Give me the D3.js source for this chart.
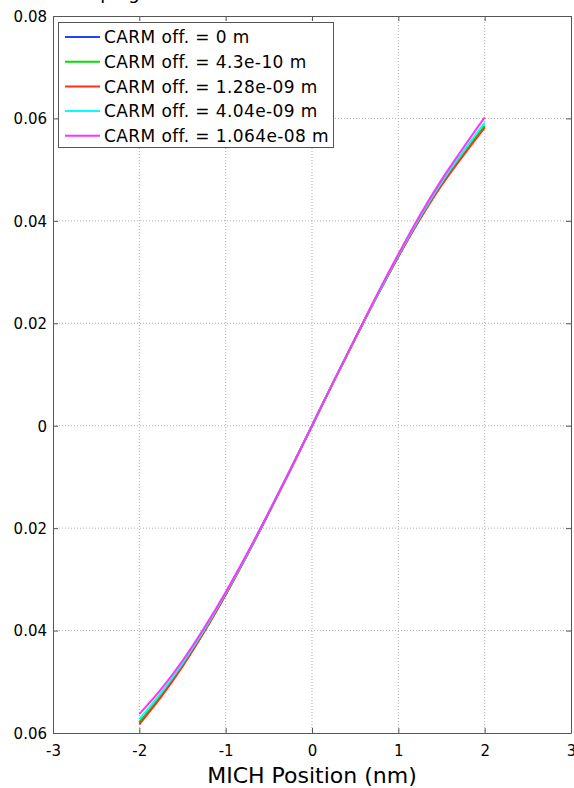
<!DOCTYPE html>
<html>
<head>
<meta charset="utf-8">
<script src="https://cdn.jsdelivr.net/npm/d3@7"></script>
<style>
  html, body { margin: 0; padding: 0; background: #fff; }
  svg { display: block; font-family: "DejaVu Sans", sans-serif; }
</style>
</head>
<body>
<svg id="chart" width="574" height="788"></svg>
<script>
// MICH position sweep (nm)
const michPos = [-2, -1.75, -1.5, -1.25, -1, -0.75, -0.5, -0.25, 0,
                 0.25, 0.5, 0.75, 1, 1.25, 1.5, 1.75, 2];

// Error signal for each CARM offset
const carm0 = [-0.0580, -0.0528, -0.0469, -0.0402, -0.0329, -0.0252, -0.0170, -0.0086, 0,
               0.0086, 0.0170, 0.0252, 0.0331, 0.0404, 0.0471, 0.0529, 0.0585];
const carm430p = [-0.0579, -0.0527, -0.0468, -0.0401, -0.0329, -0.0251, -0.0170, -0.0086, 0,
                  0.0086, 0.0170, 0.0253, 0.0331, 0.0405, 0.0471, 0.0530, 0.0586];
const carm1280p = [-0.0583, -0.0530, -0.0470, -0.0403, -0.0330, -0.0252, -0.0170, -0.0086, 0,
                   0.0086, 0.0170, 0.0252, 0.0330, 0.0403, 0.0469, 0.0527, 0.0582];
const carm4040p = [-0.0573, -0.0522, -0.0464, -0.0399, -0.0327, -0.0251, -0.0169, -0.0086, 0,
                   0.0086, 0.0171, 0.0253, 0.0333, 0.0407, 0.0475, 0.0535, 0.0592];
const carm10640p = [-0.0563, -0.0515, -0.0459, -0.0395, -0.0325, -0.0249, -0.0169, -0.0086, 0,
                    0.0086, 0.0171, 0.0255, 0.0335, 0.0411, 0.0480, 0.0542, 0.0602];

const seriesNames = ["CARM off. = 0 m", "CARM off. = 4.3e-10 m", "CARM off. = 1.28e-09 m",
                     "CARM off. = 4.04e-09 m", "CARM off. = 1.064e-08 m"];
const seriesValues = [carm0, carm430p, carm1280p, carm4040p, carm10640p];
const seriesColors = ["#1f44ff", "#00e000", "#ff3311", "#00ffff", "#ff33ff"];

const xTicks = [-3, -2, -1, 0, 1, 2, 3];
const yTicks = [-0.06, -0.04, -0.02, 0, 0.02, 0.04, 0.06, 0.08];
const yTickLabels = ["-0.06", "-0.04", "-0.02", "0", "0.02", "0.04", "0.06", "0.08"];

const titleText = "Sweeping MICH with CARM offset";
const xLabel = "MICH Position (nm)";

const svg = d3.select("#chart");
const m = { left: 53, top: 16, right: 3, bottom: 55 };
const W = 574 - m.left - m.right, H = 788 - m.top - m.bottom;

const x = d3.scaleLinear().domain([-3, 3]).range([m.left, m.left + W]);
const y = d3.scaleLinear().domain([-0.06, 0.08]).range([m.top + H, m.top]);

const axisColor = "#555";

// dotted grid
const grid = svg.append("g");
xTicks.slice(1, -1).forEach(t => {
  grid.append("line").attr("x1", x(t)).attr("x2", x(t))
    .attr("y1", m.top).attr("y2", m.top + H)
    .attr("stroke", "#b0b0b0").attr("stroke-width", 1).attr("stroke-dasharray", "1,2");
});
yTicks.slice(1, -1).forEach(t => {
  grid.append("line").attr("x1", m.left).attr("x2", m.left + W)
    .attr("y1", y(t)).attr("y2", y(t))
    .attr("stroke", "#b0b0b0").attr("stroke-width", 1).attr("stroke-dasharray", "1,2");
});

// data lines
const line = d3.line()
  .x((d, i) => x(michPos[i]))
  .y(d => y(d))
  .curve(d3.curveMonotoneX);

seriesValues.forEach((vals, k) => {
  svg.append("path").datum(vals)
    .attr("d", line)
    .attr("fill", "none")
    .attr("stroke", seriesColors[k])
    .attr("stroke-width", 2);
});

// axes with inward ticks on all four sides
const tickLen = 5;
const axB = svg.append("g").attr("transform", `translate(0,${m.top + H})`)
  .call(d3.axisBottom(x).tickValues(xTicks).tickSizeInner(-tickLen).tickSizeOuter(0).tickPadding(12)
    .tickFormat(d => String(d)));
const axT = svg.append("g").attr("transform", `translate(0,${m.top})`)
  .call(d3.axisTop(x).tickValues(xTicks).tickSizeInner(-tickLen).tickSizeOuter(0).tickFormat(""));
const axL = svg.append("g").attr("transform", `translate(${m.left},0)`)
  .call(d3.axisLeft(y).tickValues(yTicks).tickSizeInner(-tickLen).tickSizeOuter(0).tickPadding(6)
    .tickFormat(""));
const axR = svg.append("g").attr("transform", `translate(${m.left + W},0)`)
  .call(d3.axisRight(y).tickValues(yTicks).tickSizeInner(-tickLen).tickSizeOuter(0).tickFormat(""));

[axB, axT, axL, axR].forEach(a => {
  a.select(".domain").attr("stroke", axisColor);
  a.selectAll(".tick line").attr("stroke", axisColor);
  a.selectAll("text").attr("fill", "#000").style("font-size", "15px")
    .style("font-family", '"DejaVu Sans", sans-serif');
});

// y tick labels: the sign sits well apart from the digits
axL.selectAll(".tick").each(function (d, i) {
  const lab = yTickLabels[i];
  const t = d3.select(this).append("text")
    .attr("x", -6).attr("dy", "0.36em")
    .attr("text-anchor", "end").attr("fill", "#000")
    .style("font-size", "15px").style("font-family", '"DejaVu Sans", sans-serif');
  if (lab.startsWith("-")) {
    t.append("tspan").text("-");
    t.append("tspan").attr("dx", 14).text(lab.slice(1));
  } else {
    t.text(lab);
  }
});

// x label
svg.append("text").attr("x", x(0)).attr("y", 783)
  .attr("text-anchor", "middle").style("font-size", "22px").text(xLabel);

// title (only its lowest part lies inside the page)
svg.append("text").attr("x", 52).attr("y", -1)
  .style("font-size", "18px").text(titleText);

// legend
const lg = svg.append("g");
lg.append("rect").attr("x", 58.5).attr("y", 22.5).attr("width", 275).attr("height", 125)
  .attr("fill", "#fff").attr("stroke", axisColor).attr("stroke-width", 1);
seriesNames.forEach((name, k) => {
  const cy = 37 + k * 24.7;
  lg.append("line").attr("x1", 65).attr("x2", 100).attr("y1", cy).attr("y2", cy)
    .attr("stroke", seriesColors[k]).attr("stroke-width", 2);
  lg.append("text").attr("x", 104).attr("y", cy).attr("dy", "0.36em")
    .style("font-size", "17px").style("letter-spacing", "0.4px").text(name);
});
</script>
</body>
</html>
